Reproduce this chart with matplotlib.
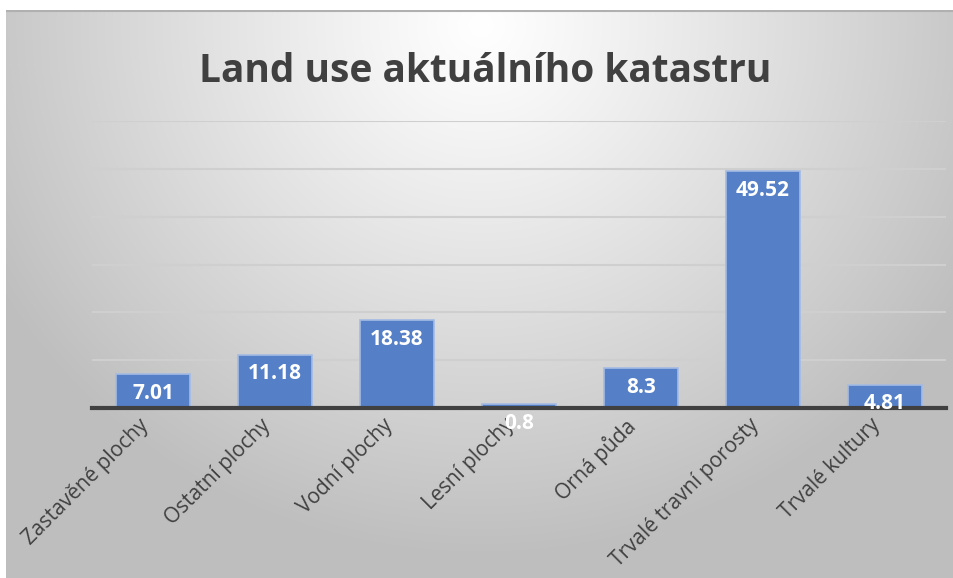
import numpy as np
import matplotlib.pyplot as plt

categories = ["Zastavěné plochy", "Ostatní plochy", "Vodní plochy", "Lesní plochy",
              "Orná půda", "Trvalé travní porosty", "Trvalé kultury"]
values = [7.01, 11.18, 18.38, 0.8, 8.3, 49.52, 4.81]
value_labels = ["7.01", "11.18", "18.38", "0.8", "8.3", "49.52", "4.81"]

W, H = 954, 578
fig = plt.figure(figsize=(W / 100, H / 100), dpi=100)

# radial grey background (white near the top centre)
bg = fig.add_axes([6 / W, 0, 1 - 6 / W, 568 / H])
yy, xx = np.mgrid[0:568, 0:948]
d = np.hypot(xx - 475, (yy - 15) * 1.05) / 560
g = np.clip(255 - 65 * np.clip(d, 0, 1) ** 1.1, 190, 255) / 255
bg.imshow(np.dstack([g, g, g]), aspect="auto", interpolation="bilinear")
bg.axhline(0, color="#b0b0b0", lw=1.5)
bg.set_axis_off()

ax = fig.add_axes([92 / W, (H - 408) / H, (946 - 92) / W, (408 - 121) / H])
ax.patch.set_alpha(0)
x = np.arange(len(categories))
bars = ax.bar(x, values, width=0.6, color="#5580c8", edgecolor="#a4bbe3", linewidth=1.2, zorder=3)

ax.set_xlim(-0.5, len(categories) - 0.5)
ax.set_ylim(0, 60)
ax.set_yticks(np.arange(10, 61, 10))
ax.yaxis.grid(True, color="#cfcfcf", lw=1.5, zorder=0)
ax.tick_params(axis="y", length=0, labelleft=False)
ax.tick_params(axis="x", length=0, pad=5)
for s in ["top", "right", "left"]:
    ax.spines[s].set_visible(False)
ax.spines["bottom"].set_color("#404040")
ax.spines["bottom"].set_linewidth(3)
ax.spines["bottom"].set_zorder(4)

ax.set_xticks(x)
ax.set_xticklabels(categories, rotation=45, ha="right", va="top",
                   fontsize=15, color="#404040", family="Open Sans")
for t in ax.get_xticklabels():
    t.set_x(t.get_position()[0] + 0.03)

for xi, v, lab in zip(x, values, value_labels):
    ax.annotate(lab, (xi, v), xytext=(0, -19), textcoords="offset pixels",
                ha="center", va="center", color="white", fontsize=15,
                fontweight="bold", family="Open Sans", zorder=5)

fig.text(485 / W, 1 - 72 / H, "Land use aktuálního katastru", ha="center", va="center",
         fontsize=28, fontweight="bold", color="#404040", family="Open Sans")

fig.savefig("out.png", dpi=100)
